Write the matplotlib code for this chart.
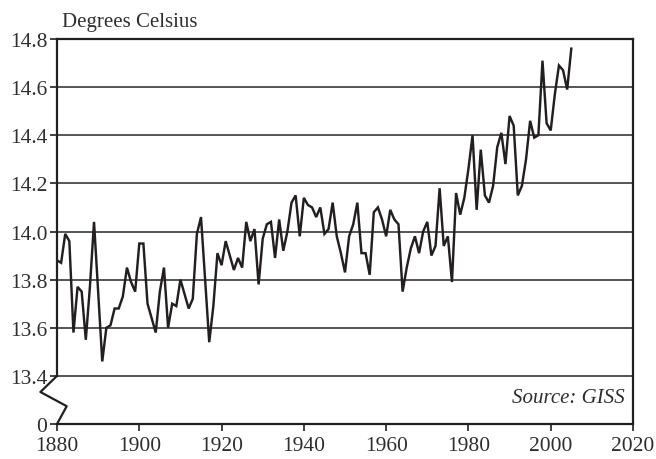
import matplotlib
matplotlib.use("Agg")
import matplotlib.pyplot as plt
import numpy as np

years = list(range(1880, 2006))
temps = [
    13.88, 13.87, 13.99, 13.96, 13.58, 13.77, 13.75, 13.55, 13.77, 14.04,  # 1880-1889
    13.75, 13.46, 13.60, 13.61, 13.68, 13.68, 13.73, 13.85, 13.79, 13.75,  # 1890-1899
    13.95, 13.95, 13.70, 13.64, 13.58, 13.75, 13.85, 13.60, 13.70, 13.69,  # 1900-1909
    13.80, 13.74, 13.68, 13.72, 13.99, 14.06, 13.80, 13.54, 13.69, 13.91,  # 1910-1919
    13.86, 13.96, 13.90, 13.84, 13.89, 13.85, 14.04, 13.96, 14.01, 13.78,  # 1920-1929
    13.97, 14.03, 14.04, 13.89, 14.05, 13.92, 14.00, 14.12, 14.15, 13.98,  # 1930-1939
    14.14, 14.11, 14.10, 14.06, 14.10, 13.99, 14.01, 14.12, 13.98, 13.91,  # 1940-1949
    13.83, 13.98, 14.03, 14.12, 13.91, 13.91, 13.82, 14.08, 14.10, 14.05,  # 1950-1959
    13.98, 14.09, 14.05, 14.03, 13.75, 13.85, 13.93, 13.98, 13.91, 14.00,  # 1960-1969
    14.04, 13.90, 13.94, 14.18, 13.94, 13.98, 13.79, 14.16, 14.07, 14.14,  # 1970-1979
    14.26, 14.40, 14.09, 14.34, 14.15, 14.12, 14.19, 14.35, 14.41, 14.28,  # 1980-1989
    14.48, 14.44, 14.15, 14.19, 14.30, 14.46, 14.39, 14.40, 14.71, 14.45,  # 1990-1999
    14.42, 14.57, 14.69, 14.67, 14.59, 14.76,                              # 2000-2005
]
x_ticks = [1880, 1900, 1920, 1940, 1960, 1980, 2000, 2020]
y_ticks = [13.2, 13.4, 13.6, 13.8, 14.0, 14.2, 14.4, 14.6, 14.8]
y_tick_labels = ["0", "13.4", "13.6", "13.8", "14.0", "14.2", "14.4", "14.6", "14.8"]

plt.rcParams['font.family'] = ['Liberation Serif', 'DejaVu Serif']
txt = '#2e2e2e'
ink = '#231f20'

fig = plt.figure(figsize=(6.56, 4.60), dpi=100)
ax = fig.add_axes([57/656, 1-425/460, (633-57)/656, (425-40)/460])

ax.set_xlim(1880, 2020)
ax.set_ylim(13.2, 14.8)

for yv in y_ticks[1:-1]:
    ax.axhline(yv, color='#555555', lw=1.4, zorder=1)

ax.plot(years, temps, color=ink, lw=1.75, zorder=3, solid_joinstyle='miter')

ax.set_xticks(x_ticks)
ax.set_yticks(y_ticks)
ax.set_yticklabels(y_tick_labels)
ax.tick_params(axis='both', direction='out', length=5, width=1.2, colors=ink,
               labelcolor=txt, labelsize=15.5)
ax.tick_params(axis='x', pad=3.5)
ax.tick_params(axis='y', pad=2)

for s in ['top', 'right', 'bottom']:
    ax.spines[s].set_color(ink)
    ax.spines[s].set_linewidth(1.6)
ax.spines['left'].set_color(ink)
ax.spines['left'].set_linewidth(1.6)
ax.spines['left'].set_bounds(13.4, 14.8)

# axis break zigzag
zx = [1880, 1875.97, 1882.36, 1880]
zy = [13.4, 13.333, 13.274, 13.2]
ax.plot(zx, zy, color=ink, lw=1.6, clip_on=False, zorder=4)

ax.text(0.985, 0.045, "Source: GISS", transform=ax.transAxes, ha='right', va='bottom',
        fontsize=15, style='italic', color=txt)
fig.text(62/656, 1-22/460, "Degrees Celsius", ha='left', va='center', fontsize=15, color=txt)

fig.savefig("out.png", dpi=100)
